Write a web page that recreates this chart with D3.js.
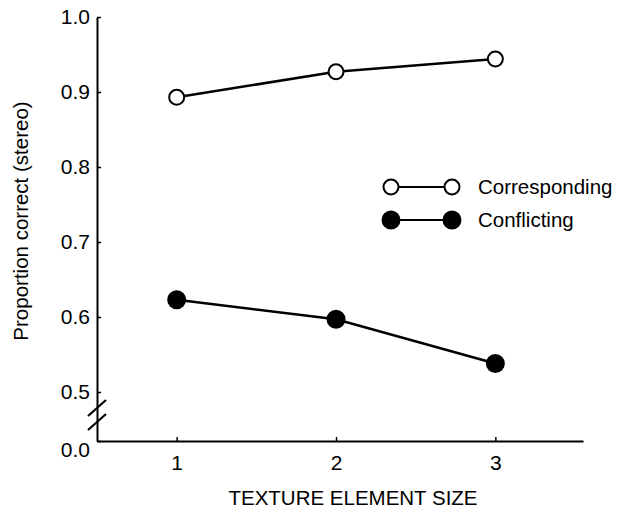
<!DOCTYPE html>
<html>
<head>
<meta charset="utf-8">
<script src="https://cdn.jsdelivr.net/npm/d3@7"></script>
<style>
  body { margin: 0; background: #fff; }
  svg text { font-family: "Liberation Sans", Arial, Helvetica, sans-serif; fill: #000; }
</style>
</head>
<body>
<svg id="chart" width="624" height="516"></svg>
<script>
// data
const sizes = [1, 2, 3];
const corresponding = [0.893, 0.927, 0.944];
const conflicting = [0.623, 0.597, 0.538];
const yTicks = [0.0, 0.5, 0.6, 0.7, 0.8, 0.9, 1.0];
const seriesNames = ["Corresponding", "Conflicting"];

const svg = d3.select("#chart");

// x axis runs a bit past 3, y axis has a break between 0 and 0.5
const x = d3.scaleLinear().domain([0.5, 3.55]).range([97, 583]);
const y = d3.scaleLinear().domain([0, 0.5, 1.0]).range([441, 392, 17]);

const xAxis = d3.axisBottom(x)
    .tickValues(sizes)
    .tickFormat(d3.format("d"))
    .tickSizeInner(-4)
    .tickSizeOuter(0)
    .tickPadding(14);

const yAxis = d3.axisLeft(y)
    .tickValues(yTicks)
    .tickFormat(d3.format(".1f"))
    .tickSizeInner(-4)
    .tickSizeOuter(0)
    .tickPadding(7);

const gx = svg.append("g")
    .attr("transform", `translate(0,${y(0)})`)
    .call(xAxis);

const gy = svg.append("g")
    .attr("transform", `translate(${x(0.5)},0)`)
    .call(yAxis);

[gx, gy].forEach(g => {
    g.select(".domain").attr("stroke-width", 2);
    g.selectAll(".tick line").attr("stroke-width", 1.5);
    g.selectAll(".tick text").style("font-size", "21px");
});

// 0.0 label sits a little below the axis line
gy.selectAll(".tick text").filter(d => d === 0).attr("dy", "0.72em");

// the break marks on the y axis
const bx = x(0.5);
const breaks = [y(0.5) + 16, y(0.5) + 30];
svg.append("g")
    .selectAll("line")
    .data(breaks)
    .join("line")
    .attr("x1", bx - 9).attr("y1", d => d + 8)
    .attr("x2", bx + 9).attr("y2", d => d - 8)
    .attr("stroke", "#000")
    .attr("stroke-width", 2.2);

// series
const line = d3.line()
    .x((d, i) => x(sizes[i]))
    .y(d => y(d));

function drawSeries(values, filled) {
    svg.append("path")
        .datum(values)
        .attr("d", line)
        .attr("fill", "none")
        .attr("stroke", "#000")
        .attr("stroke-width", 2.5);

    svg.append("g")
        .selectAll("circle")
        .data(values)
        .join("circle")
        .attr("cx", (d, i) => x(sizes[i]))
        .attr("cy", d => y(d))
        .attr("r", filled ? 8.5 : 7.5)
        .attr("fill", filled ? "#000" : "#fff")
        .attr("stroke", "#000")
        .attr("stroke-width", 2);
}

drawSeries(corresponding, false);
drawSeries(conflicting, true);

// legend
const legend = svg.append("g").attr("transform", "translate(391,187)");
seriesNames.forEach((name, i) => {
    const row = legend.append("g").attr("transform", `translate(0,${i * 33})`);
    const filled = i === 1;
    row.append("line")
        .attr("x1", 0).attr("x2", 61)
        .attr("stroke", "#000")
        .attr("stroke-width", 2);
    row.selectAll("circle")
        .data([0, 61])
        .join("circle")
        .attr("cx", d => d)
        .attr("r", filled ? 8.5 : 7.5)
        .attr("fill", filled ? "#000" : "#fff")
        .attr("stroke", "#000")
        .attr("stroke-width", 2);
    row.append("text")
        .attr("x", 87)
        .attr("dy", "0.35em")
        .style("font-size", "20.5px")
        .text(name);
});

// axis titles
svg.append("text")
    .attr("x", 353)
    .attr("y", 505)
    .attr("text-anchor", "middle")
    .style("font-size", "20.5px")
    .text("TEXTURE ELEMENT SIZE");

svg.append("text")
    .attr("transform", "translate(28,221) rotate(-90)")
    .attr("text-anchor", "middle")
    .style("font-size", "20.5px")
    .text("Proportion correct (stereo)");
</script>
</body>
</html>
